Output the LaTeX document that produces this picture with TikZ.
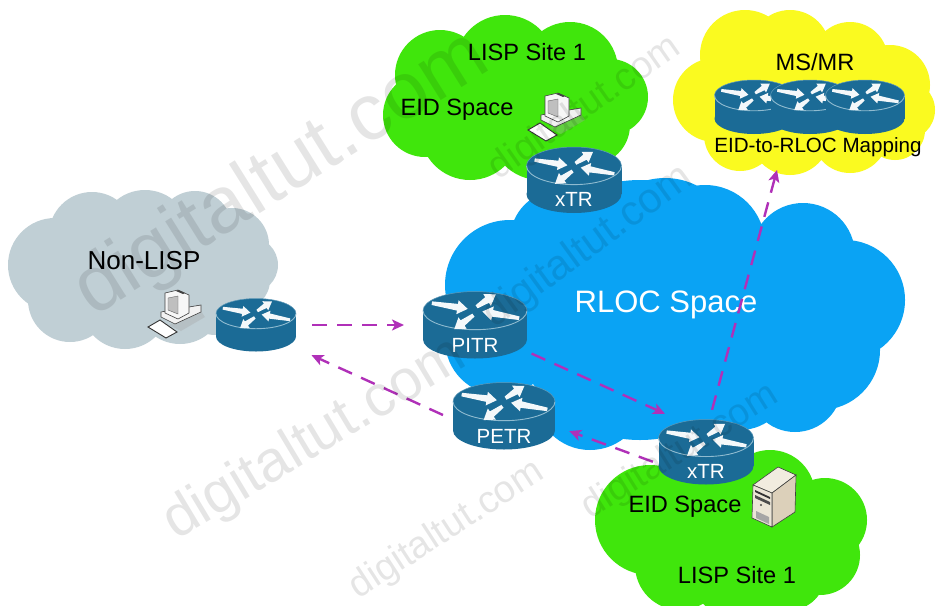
\documentclass[tikz,border=0pt]{standalone}
\usepackage{fontspec}
\setmainfont{Liberation Sans}
\usetikzlibrary{arrows.meta,calc}
\definecolor{cblue}{HTML}{0AA3F4}
\definecolor{cgreen}{HTML}{40E60C}
\definecolor{cyell}{HTML}{FAFA20}
\definecolor{cgray}{HTML}{C0CFD5}
\definecolor{crouter}{HTML}{1B6B96}
\definecolor{cband}{HTML}{8FBBD0}
\definecolor{cpurple}{HTML}{B030B8}
\definecolor{cbeigeA}{HTML}{F1ECDF}
\definecolor{cbeigeB}{HTML}{DCD0BA}
\definecolor{cbeigeC}{HTML}{EBE5D6}
\tikzset{
  lbl/.style={font=\fontsize{23.6}{26}\selectfont,text=black,inner sep=0pt},
  rlbl/.style={font=\fontsize{20.5}{22}\selectfont,text=white,inner sep=0pt},
  rbox/.style={inner sep=0pt,outer sep=0pt,draw=none},
  flow/.style={draw=cpurple,line width=2.4pt,dash pattern=on 15pt off 10pt,-{Stealth[length=12pt,width=11pt,inset=3pt]}},
  wm/.style={text=black,opacity=.1,inner sep=0pt},
  iconline/.style={draw=black!75,line width=.6pt},
}
\newcommand\cloud[2]{\fill[#1] \foreach \cx/\cy/\cr in {#2} {(\cx,\cy) circle[radius=\cr]};}
% tapered white arrow: x1,y1,x2,y2 in router half-widths, unit u
\newcommand\warrow[5]{%
  \pgfmathsetmacro\wl{veclen(#3-(#1),#4-(#2))*#5}
  \pgfmathsetmacro\wa{atan2(#4-(#2),#3-(#1))}
  \begin{scope}[shift={({(#1)*#5},{(#2)*#5})},rotate=-\wa]
    \fill[white!95!crouter] (0,-.035*#5) -- (\wl-.2*#5,-.065*#5) -- (\wl-.2*#5,-.135*#5) -- (\wl,0)
      -- (\wl-.2*#5,.135*#5) -- (\wl-.2*#5,.065*#5) -- (0,.035*#5) -- cycle;
  \end{scope}
}
\newcommand\router[6]{%
  \node[rbox,minimum width=2*#4*1pt,minimum height=2*#5*1pt] (#1) at (#2,#3) {};
  \begin{scope}[shift={(#2,#3)}]
    \pgfmathsetmacro\ry{.57*#5}
    \pgfmathsetmacro\yt{-#5+\ry}
    \pgfmathsetmacro\yb{#5-\ry}
    \fill[crouter] (0,\yb) ellipse[x radius=#4,y radius=\ry];
    \fill[crouter] (-#4,\yt) rectangle (#4,\yb);
    \fill[crouter] (0,\yt) ellipse[x radius=#4,y radius=\ry];
    \draw[cband,line width=.9pt] (-#4,\yt) arc[start angle=180,end angle=0,x radius=#4,y radius=\ry];
    \draw[cband!60!crouter,line width=.5pt] (-#4,\yt) arc[start angle=180,end angle=360,x radius=#4,y radius=\ry];
    \warrow{-.83}{-.42}{-.14}{-.31}{#4}
    \warrow{.03}{-.35}{.40}{-.59}{#4}
    \warrow{.85}{-.13}{.14}{-.26}{#4}
    \warrow{-.03}{-.19}{-.40}{.08}{#4}
  \end{scope}
  \if\relax\detokenize{#6}\relax\else
    \node[rlbl] (#1l) at (#2,{#3+.6*#5}) {#6};
  \fi
}
\newcommand\pcicon[2]{%
  \begin{scope}[shift={(#1,#2)}]
    \fill[black!35,opacity=.35] (-6,12) -- (26,-2) -- (30,4) -- (6,18) -- cycle;
    \filldraw[fill=black!5,iconline] (-14,4) -- (0,11) -- (26,-1) -- (26,-8) -- (8,-5) -- (-14,-1) -- cycle;
    \filldraw[fill=black!3,iconline] (-10,-20) -- (3,-23) -- (14,-18) -- (14,0) -- (3,6) -- (-10,0) -- cycle;
    \filldraw[fill=black!25,draw=black!60,line width=.4pt] (-7,-15) -- (3,-17) -- (3,1) -- (-7,-3) -- cycle;
    \fill[black!75] (3,-23) -- (10,-20) -- (8,-19) -- (1,-22) -- cycle;
    \filldraw[fill=white,draw=black!80,line width=.9pt] (-27,14) -- (-15,7) -- (2,19) -- (-9,25) -- cycle;
  \end{scope}
}
\begin{document}
\begin{tikzpicture}[x=1pt,y=-1pt]
\useasboundingbox (0,0) rectangle (936,605);
\fill[white] (0,0) rectangle (936,605);
% clouds
\cloud{cgray}{55/265/47,92/235/43,145/235/45,195/228/37,232/245/37,250/265/28,240/280/30,70/300/42,125/305/44,180/300/44,215/305/30,140/270/60}
\cloud{cgreen}{440/75/45,505/65/50,570/70/48,610/97/38,425/115/42,470/130/50,540/130/50,590/125/40,510/100/60}
\cloud{cyell}{745/55/45,790/50/40,850/60/38,890/85/40,905/110/30,715/100/42,740/135/36,790/135/40,850/135/38,895/130/30,810/95/60}
\cloud{cblue}{510/285/65,560/240/50,665/248/70,705/245/60,803/255/52,845/300/60,820/350/60,795/385/47,590/395/55,500/340/55,680/380/60,740/380/50,640/310/130,765/310/70}
\cloud{cgreen}{650/520/55,700/500/50,770/495/45,825/520/42,820/555/40,680/565/45,740/570/50,790/575/35,740/530/60}
% labels
\node[font=\fontsize{31}{34}\selectfont,text=white,inner sep=0pt] (rloc) at (666,305) {RLOC Space};
\node[font=\fontsize{26}{28}\selectfont,text=black,inner sep=0pt] (nonlisp) at (144,261) {Non-LISP};
\node[lbl] (site1) at (527,52) {LISP Site 1};
\node[lbl] (eid1) at (457,110) {EID Space};
\node[lbl] (msmr) at (815,62) {MS/MR};
\node[lbl,font=\fontsize{20.6}{23}\selectfont] (map) at (818,147) {EID-to-RLOC Mapping};
\node[lbl] (eid2) at (685,507) {EID Space};
\node[lbl] (site2) at (737,575) {LISP Site 1};
% routers
\router{rnon}{256}{325}{40}{26.5}{}
\router{pitr}{475}{325}{52}{33.5}{PITR}
\router{petr}{504}{416}{51}{33.5}{PETR}
\router{xtra}{574}{180}{47.5}{33}{xTR}
\router{xtrb}{706}{452}{47.5}{32.5}{xTR}
\router{msa}{754}{107}{39.5}{27}{}
\router{msb}{810}{107}{39.5}{27}{}
\router{msc}{865}{107}{39.5}{27}{}
% hosts
\pcicon{175}{313}
\pcicon{555}{116}
% server
\filldraw[fill=cbeigeA,iconline] (753,485) -- (778,467) -- (796,475) -- (772,493) -- cycle;
\filldraw[fill=cbeigeB,iconline] (772,493) -- (796,475) -- (795,512) -- (772,527) -- cycle;
\filldraw[fill=cbeigeC,iconline] (753,485) -- (772,493) -- (772,527) -- (752,518) -- cycle;
\fill[black!80] (755,490) -- (770,497) -- (770,499) -- (755,492) -- cycle;
\fill[black!70] (755,495) -- (770,502) -- (770,505) -- (755,498) -- cycle;
\fill[black!70] (761,505) circle[radius=1.2];
\fill[black!35] (756,511) -- (769,517) -- (769,524) -- (756,518) -- cycle;
% connectors
\coordinate (mapin) at (777,170);
\draw[flow,shorten <=16pt,shorten >=19pt] (rnon.east) -- (pitr.west);
\draw[flow,shorten <=11pt,shorten >=17pt] (petr.184.5) -- (rnon.-30);
\draw[flow,shorten <=5pt,shorten >=14pt] (pitr.-27) -- (xtrb.131);
\draw[flow,shorten <=6pt,shorten >=15pt] (xtrb.194.7) -- (petr.-11);
\draw[flow,shorten <=10pt] (xtrb.84) -- (mapin);
% watermarks
\node[wm,rotate=32,font=\fontsize{80}{82}\selectfont] (w1) at (282,175) {digitaltut.com};
\node[wm,rotate=31,font=\fontsize{58}{60}\selectfont] (w2) at (315,440) {digitaltut.com};
\node[wm,rotate=33,font=\fontsize{38}{40}\selectfont] (w3) at (447,530) {digitaltut.com};
\node[wm,rotate=35,font=\fontsize{38}{40}\selectfont] (w4) at (585,108) {digitaltut.com};
\node[wm,rotate=36,font=\fontsize{42}{44}\selectfont] (w5) at (588,247) {digitaltut.com};
\node[wm,rotate=32,font=\fontsize{38}{40}\selectfont] (w6) at (680,452) {digitaltut.com};
\end{tikzpicture}
\end{document}
